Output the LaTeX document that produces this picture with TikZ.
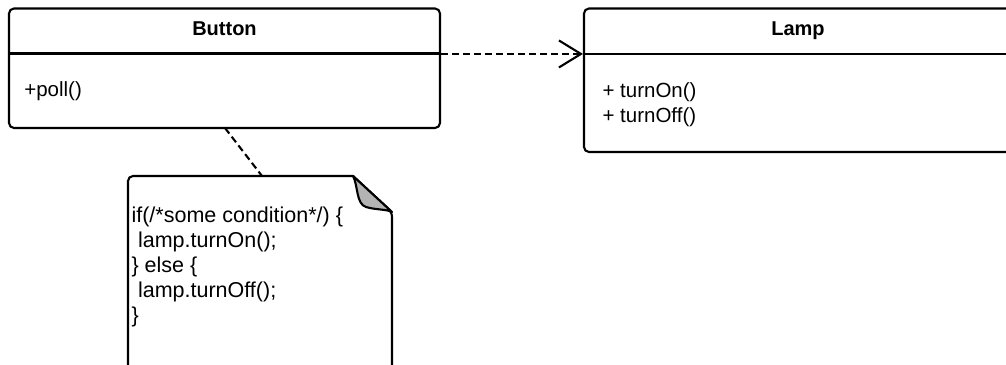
\documentclass[tikz,border=0pt]{standalone}
\usepackage{fontspec}
\setmainfont{Liberation Sans}
\usetikzlibrary{arrows.meta,calc}
\definecolor{foldgray}{HTML}{B3B3B3}
\begin{document}
\begin{tikzpicture}[x=1pt,y=-1pt,line width=2.1pt,
  classbox/.style={draw,rounded corners=5pt,inner sep=0pt,fill=white},
  titletext/.style={inner sep=0pt,anchor=base,font=\bfseries\fontsize{20}{24}\selectfont},
  membertext/.style={inner sep=0pt,anchor=base west,font=\fontsize{20.5}{24}\selectfont},
  codetext/.style={inner sep=0pt,anchor=base west,font=\fontsize{21.5}{25}\selectfont},
  dashline/.style={dash pattern=on 7pt off 4pt},
  openhead/.style={-{Straight Barb[length=22pt,width=27pt,line width=2.1pt]}}]
\useasboundingbox (0,0) rectangle (1006,364);
\begin{scope}
\clip (0,0) rectangle (1006,364);
% Button class
\node[classbox,minimum width=431pt,minimum height=119.5pt] (button) at (224.5,68.25) {};
\draw (button.west |- 0,53.5) -- (button.east |- 0,53.5);
\node[titletext] (buttontitle) at (224.5,35.7) {Button};
\node[membertext] (poll) at (23.3,96) {+poll()};
% Lamp class
\node[classbox,minimum width=431pt,minimum height=143.5pt] (lamp) at (799.5,80.25) {};
\draw (lamp.west |- 0,54) -- (lamp.east |- 0,54);
\node[titletext] (lamptitle) at (798,35.7) {Lamp};
\node[membertext] (turnon) at (601.5,97.5) {+ turnOn()};
\node[membertext] (turnoff) at (601.5,122) {+ turnOff()};
% Note
\coordinate (notetl) at (128,176);
\coordinate (foldtop) at (353,176);
\coordinate (foldright) at (392,212);
\draw[fill=white,rounded corners=5pt] (foldtop) -- (notetl) -- (128,380) -- (392,380) -- (foldright) [sharp corners] -- cycle;
\draw[fill=foldgray,line join=round] (foldtop) .. controls (358,185) and (356,204) .. (366,207) .. controls (376,210) and (386,209) .. (foldright) -- cycle;
\node[codetext] (code1) at (130.5,222) {if(/*some condition*/) \{};
\node[codetext] (code2) at (137,247) {lamp.turnOn();};
\node[codetext] (code3) at (130.5,272) {\} else \{};
\node[codetext] (code4) at (137,297) {lamp.turnOff();};
\node[codetext] (code5) at (130.5,322) {\}};
% Connectors
\coordinate (depstart) at ($(button.north east)+(0,46.5)$);
\coordinate (depend) at ($(lamp.north west)+(0,46.5)$);
\draw[dashline,openhead] (depstart) -- (depend);
\coordinate (anchorstart) at (225,128);
\coordinate (anchorend) at (262,176);
\draw[dashline] (anchorstart) -- (anchorend);
\end{scope}
\end{tikzpicture}
\end{document}
